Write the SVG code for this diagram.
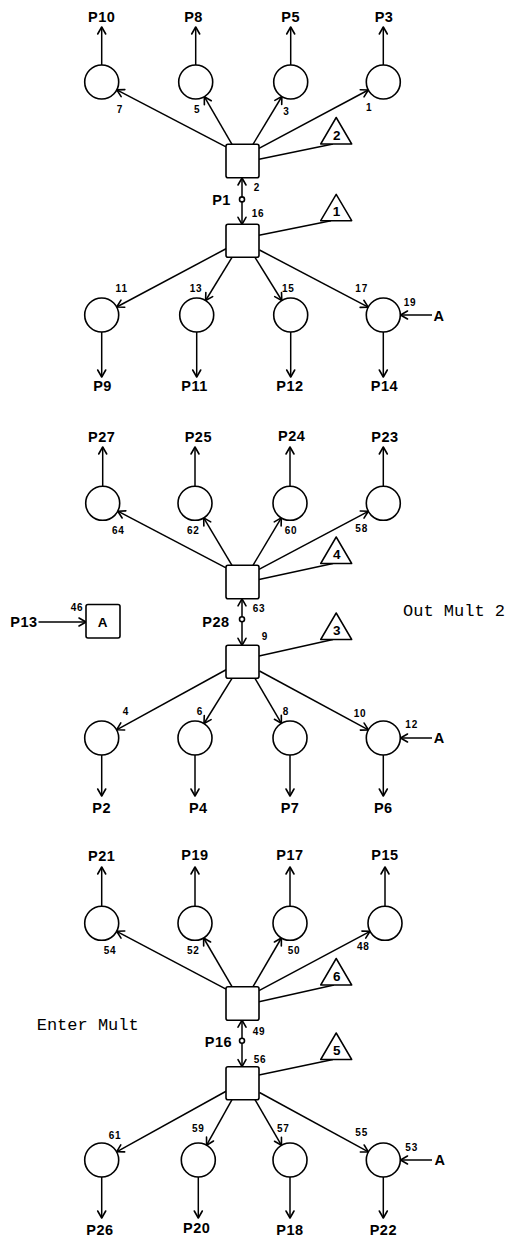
<svg xmlns="http://www.w3.org/2000/svg" width="510" height="1240" viewBox="0 0 510 1240">
<defs>
<marker id="ah" markerUnits="userSpaceOnUse" viewBox="-9 -6 11 12" markerWidth="11" markerHeight="12" refX="0" refY="0" orient="auto">
<path d="M-7,-4 L0,0 L-7,4" fill="none" stroke="#000" stroke-width="1.6" stroke-linecap="round" stroke-linejoin="round"/>
</marker>
<style>
.ln{stroke:#000;stroke-width:1.5;fill:none}
.ar{stroke:#000;stroke-width:1.5;fill:none;marker-end:url(#ah)}
.nd{fill:#fff;stroke:#000;stroke-width:1.6}
.tri{fill:#fff;stroke:#000;stroke-width:1.5;stroke-linejoin:round}
.lb{font-family:"Liberation Sans",Arial,sans-serif;font-weight:bold;font-size:14.5px;text-anchor:middle;letter-spacing:0.5px}
.nm{font-family:"Liberation Sans",Arial,sans-serif;font-weight:bold;font-size:10px;text-anchor:middle;letter-spacing:0.8px}
.tn{font-family:"Liberation Sans",Arial,sans-serif;font-weight:bold;font-size:13.5px;text-anchor:middle}
.tw{font-family:"Liberation Mono","Courier New",monospace;font-size:17px}
</style>
</defs>
<rect width="510" height="1240" fill="#fff"/>

<g id="connectors">
<!-- Section 1 -->
<line class="ar" x1="101.7" y1="65" x2="101.7" y2="27"/>
<line class="ar" x1="195.7" y1="65" x2="195.7" y2="27"/>
<line class="ar" x1="290.7" y1="65" x2="290.7" y2="27"/>
<line class="ar" x1="383.3" y1="65" x2="383.3" y2="27"/>
<line class="ar" x1="226" y1="146.8" x2="116.8" y2="89.9"/>
<line class="ar" x1="232" y1="144.3" x2="204.3" y2="96.7"/>
<line class="ar" x1="253" y1="144.3" x2="281.9" y2="96.5"/>
<line class="ar" x1="259" y1="148.3" x2="368.3" y2="90"/>
<line class="ln" x1="259" y1="159.3" x2="333" y2="144"/>
<line class="ar" x1="242" y1="197" x2="242" y2="178"/>
<line class="ar" x1="242" y1="201.8" x2="242" y2="224.3"/>
<line class="ln" x1="259" y1="235.3" x2="331" y2="220.7"/>
<line class="ar" x1="226.5" y1="248.5" x2="116.7" y2="307"/>
<line class="ar" x1="232" y1="257.3" x2="205.6" y2="300.5"/>
<line class="ar" x1="255" y1="257.3" x2="281.8" y2="300.5"/>
<line class="ar" x1="259.5" y1="250" x2="368.2" y2="307.1"/>
<line class="ar" x1="432" y1="315" x2="400.5" y2="315"/>
<line class="ar" x1="101.7" y1="332" x2="101.7" y2="377"/>
<line class="ar" x1="196.7" y1="332" x2="196.7" y2="377"/>
<line class="ar" x1="290.7" y1="332" x2="290.7" y2="377"/>
<line class="ar" x1="383.3" y1="332" x2="383.3" y2="377"/>
<!-- Section 2 -->
<line class="ar" x1="102.7" y1="486.3" x2="102.7" y2="447"/>
<line class="ar" x1="195" y1="486.3" x2="195" y2="447"/>
<line class="ar" x1="290" y1="486.3" x2="290" y2="447"/>
<line class="ar" x1="383.3" y1="486.3" x2="383.3" y2="447"/>
<line class="ar" x1="226" y1="567.8" x2="117.8" y2="511.2"/>
<line class="ar" x1="232" y1="565.3" x2="203.7" y2="517.9"/>
<line class="ar" x1="253" y1="565.3" x2="281.3" y2="517.9"/>
<line class="ar" x1="259" y1="569.3" x2="368.3" y2="511.3"/>
<line class="ln" x1="259" y1="579.5" x2="333" y2="563.5"/>
<line class="ar" x1="242" y1="617" x2="242" y2="598.8"/>
<line class="ar" x1="242" y1="621.6" x2="242" y2="645.3"/>
<line class="ln" x1="259" y1="656" x2="333" y2="639.5"/>
<line class="ar" x1="226.5" y1="669.5" x2="116.6" y2="729.8"/>
<line class="ar" x1="232" y1="678.3" x2="204" y2="723.5"/>
<line class="ar" x1="255" y1="678.3" x2="281.4" y2="723.3"/>
<line class="ar" x1="259.5" y1="671" x2="368.4" y2="729.9"/>
<line class="ar" x1="432" y1="738" x2="400.5" y2="738"/>
<line class="ar" x1="101.7" y1="755" x2="101.7" y2="796"/>
<line class="ar" x1="195" y1="755" x2="195" y2="796"/>
<line class="ar" x1="290" y1="755" x2="290" y2="796"/>
<line class="ar" x1="383.3" y1="755" x2="383.3" y2="796"/>
<line class="ar" x1="38.5" y1="622" x2="86" y2="622"/>
<!-- Section 3 -->
<line class="ar" x1="101.7" y1="906.3" x2="101.7" y2="867"/>
<line class="ar" x1="195" y1="906.3" x2="195" y2="867"/>
<line class="ar" x1="290" y1="906.3" x2="290" y2="867"/>
<line class="ar" x1="385" y1="906.3" x2="385" y2="867"/>
<line class="ar" x1="226" y1="989.2" x2="116.7" y2="931.3"/>
<line class="ar" x1="232" y1="986.7" x2="203.6" y2="938"/>
<line class="ar" x1="253" y1="986.7" x2="281.4" y2="938"/>
<line class="ar" x1="259" y1="990.7" x2="370" y2="931.3"/>
<line class="ln" x1="259" y1="1001.7" x2="334" y2="985"/>
<line class="ar" x1="242" y1="1038.4" x2="242" y2="1020.2"/>
<line class="ar" x1="242" y1="1043" x2="242" y2="1066.7"/>
<line class="ln" x1="259" y1="1075" x2="333" y2="1059.5"/>
<line class="ar" x1="226.5" y1="1091" x2="116.6" y2="1151.8"/>
<line class="ar" x1="232" y1="1099.7" x2="206.6" y2="1145.2"/>
<line class="ar" x1="255" y1="1099.7" x2="281.5" y2="1145.3"/>
<line class="ar" x1="259.5" y1="1092.5" x2="368.4" y2="1151.9"/>
<line class="ar" x1="432" y1="1160" x2="400.5" y2="1160"/>
<line class="ar" x1="101.7" y1="1177" x2="101.7" y2="1218"/>
<line class="ar" x1="198.3" y1="1177" x2="198.3" y2="1218"/>
<line class="ar" x1="290" y1="1177" x2="290" y2="1218"/>
<line class="ar" x1="383.3" y1="1177" x2="383.3" y2="1218"/>
</g>

<!-- ===== Section 1 ===== -->
<g id="n-P10"><circle class="nd" cx="101.7" cy="82" r="17"/><text class="lb" x="101.7" y="21.5">P10</text><text class="nm" x="120" y="112.5">7</text></g>
<g id="n-P8"><circle class="nd" cx="195.7" cy="82" r="17"/><text class="lb" x="193.5" y="21.5">P8</text><text class="nm" x="197.3" y="112.5">5</text></g>
<g id="n-P5"><circle class="nd" cx="290.7" cy="82" r="17"/><text class="lb" x="290.7" y="21.5">P5</text><text class="nm" x="286.5" y="115">3</text></g>
<g id="n-P3"><circle class="nd" cx="383.3" cy="82" r="17"/><text class="lb" x="384" y="21.5">P3</text><text class="nm" x="369.3" y="110.8">1</text></g>
<g id="sq-2"><rect class="nd" x="226" y="144.3" width="33" height="33.5" rx="2"/><text class="nm" x="257" y="190.8">2</text></g>
<g id="tri-2"><path class="tri" d="M320.7,144 L336.2,117.5 L351.7,144 Z"/><text class="tn" x="336.7" y="139.5">2</text></g>
<g id="P1"><circle class="nd" cx="242" cy="199.4" r="2.5"/><text class="lb" x="221.5" y="205">P1</text></g>
<g id="sq-16"><rect class="nd" x="226" y="224.3" width="33" height="33" rx="2"/><text class="nm" x="258" y="216.5">16</text></g>
<g id="tri-1"><path class="tri" d="M320.7,220.7 L336.2,194.3 L351.7,220.7 Z"/><text class="tn" x="336.5" y="216.3">1</text></g>
<g id="n-P9"><circle class="nd" cx="101.7" cy="315" r="17"/><text class="lb" x="102.5" y="391">P9</text><text class="nm" x="121.7" y="291.8">11</text></g>
<g id="n-P11"><circle class="nd" cx="196.7" cy="315" r="17"/><text class="lb" x="194.5" y="391">P11</text><text class="nm" x="196" y="291.8">13</text></g>
<g id="n-P12"><circle class="nd" cx="290.7" cy="315" r="17"/><text class="lb" x="290" y="391">P12</text><text class="nm" x="288.3" y="291.8">15</text></g>
<g id="n-P14"><circle class="nd" cx="383.3" cy="315" r="17"/><text class="lb" x="384.5" y="391">P14</text><text class="nm" x="361.7" y="291.8">17</text><text class="nm" x="410" y="306.2">19</text><text class="lb" x="439" y="320.5">A</text></g>

<!-- ===== Section 2 ===== -->
<g id="n-P27"><circle class="nd" cx="102.7" cy="503.3" r="17"/><text class="lb" x="101.7" y="441.7">P27</text><text class="nm" x="118.3" y="533.5">64</text></g>
<g id="n-P25"><circle class="nd" cx="195" cy="503.3" r="17"/><text class="lb" x="198.3" y="441.7">P25</text><text class="nm" x="193.3" y="533.5">62</text></g>
<g id="n-P24"><circle class="nd" cx="290" cy="503.3" r="17"/><text class="lb" x="291.7" y="440.5">P24</text><text class="nm" x="291" y="533.5">60</text></g>
<g id="n-P23"><circle class="nd" cx="383.3" cy="503.3" r="17"/><text class="lb" x="385" y="441.5">P23</text><text class="nm" x="361.7" y="531.8">58</text></g>
<g id="sq-63"><rect class="nd" x="226" y="565.3" width="33" height="33.5" rx="2"/><text class="nm" x="259" y="611.8">63</text></g>
<g id="tri-4"><path class="tri" d="M320.7,563.5 L336.2,537 L351.7,563.5 Z"/><text class="tn" x="336.7" y="559">4</text></g>
<g id="P28"><circle class="nd" cx="242" cy="619.3" r="2.5"/><text class="lb" x="216" y="626.5">P28</text></g>
<g id="sq-9"><rect class="nd" x="226" y="645.3" width="33" height="33" rx="2"/><text class="nm" x="265" y="640">9</text></g>
<g id="tri-3"><path class="tri" d="M320.7,639.5 L336.2,613 L351.7,639.5 Z"/><text class="tn" x="336.7" y="635">3</text></g>
<g id="n-P2"><circle class="nd" cx="101.7" cy="738" r="17"/><text class="lb" x="101.7" y="813.3">P2</text><text class="nm" x="126" y="714.5">4</text></g>
<g id="n-P4"><circle class="nd" cx="195" cy="738" r="17"/><text class="lb" x="198.3" y="813.3">P4</text><text class="nm" x="200" y="714.5">6</text></g>
<g id="n-P7"><circle class="nd" cx="290" cy="738" r="17"/><text class="lb" x="290" y="813.3">P7</text><text class="nm" x="286" y="714.5">8</text></g>
<g id="n-P6"><circle class="nd" cx="383.3" cy="738" r="17"/><text class="lb" x="383.3" y="813.3">P6</text><text class="nm" x="360" y="716.8">10</text><text class="nm" x="411.7" y="727.8">12</text><text class="lb" x="439.3" y="743.3">A</text></g>
<g id="box-A"><rect class="nd" x="86" y="604.5" width="34" height="33.5" rx="2"/><text class="tn" x="102.5" y="626.5">A</text><text class="nm" x="77" y="611">46</text><text class="lb" x="24" y="627">P13</text></g>
<g id="note-out"><text class="tw" x="403" y="615.5">Out Mult 2</text></g>

<!-- ===== Section 3 ===== -->
<g id="n-P21"><circle class="nd" cx="101.7" cy="923.3" r="17"/><text class="lb" x="101.7" y="861">P21</text><text class="nm" x="110" y="953.5">54</text></g>
<g id="n-P19"><circle class="nd" cx="195" cy="923.3" r="17"/><text class="lb" x="195" y="860">P19</text><text class="nm" x="193.3" y="953.5">52</text></g>
<g id="n-P17"><circle class="nd" cx="290" cy="923.3" r="17"/><text class="lb" x="290" y="860">P17</text><text class="nm" x="294" y="953.5">50</text></g>
<g id="n-P15"><circle class="nd" cx="385" cy="923.3" r="17"/><text class="lb" x="385" y="860">P15</text><text class="nm" x="363.3" y="950.2">48</text></g>
<g id="sq-49"><rect class="nd" x="226" y="986.7" width="33" height="33.5" rx="2"/><text class="nm" x="259" y="1035.2">49</text></g>
<g id="tri-6"><path class="tri" d="M320.7,985 L336.2,958.5 L351.7,985 Z"/><text class="tn" x="336.7" y="980.5">6</text></g>
<g id="note-enter"><text class="tw" x="36.7" y="1030">Enter Mult</text></g>
<g id="P16"><circle class="nd" cx="242" cy="1040.7" r="2.5"/><text class="lb" x="218.5" y="1046.5">P16</text></g>
<g id="sq-56"><rect class="nd" x="226" y="1066.7" width="33" height="33" rx="2"/><text class="nm" x="260" y="1062.8">56</text></g>
<g id="tri-5"><path class="tri" d="M320.7,1059.5 L336.2,1033 L351.7,1059.5 Z"/><text class="tn" x="336.7" y="1055">5</text></g>
<g id="n-P26"><circle class="nd" cx="101.7" cy="1160" r="17"/><text class="lb" x="100" y="1234.5">P26</text><text class="nm" x="115" y="1138.5">61</text></g>
<g id="n-P20"><circle class="nd" cx="198.3" cy="1160" r="17"/><text class="lb" x="196.7" y="1233">P20</text><text class="nm" x="198.3" y="1131.8">59</text></g>
<g id="n-P18"><circle class="nd" cx="290" cy="1160" r="17"/><text class="lb" x="290" y="1234.5">P18</text><text class="nm" x="283.3" y="1131.8">57</text></g>
<g id="n-P22"><circle class="nd" cx="383.3" cy="1160" r="17"/><text class="lb" x="383.3" y="1234.5">P22</text><text class="nm" x="361.7" y="1136.2">55</text><text class="nm" x="411.7" y="1151.2">53</text><text class="lb" x="440" y="1165">A</text></g>
</svg>
